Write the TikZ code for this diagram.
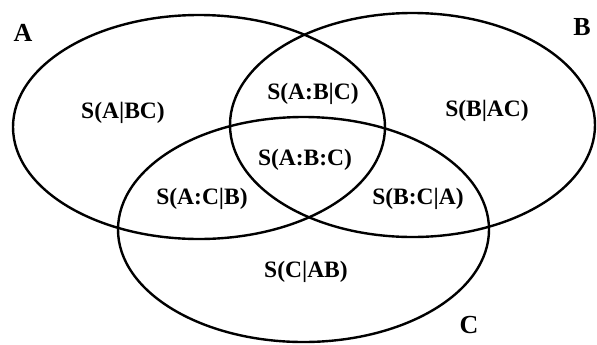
\documentclass[tikz,border=0pt]{standalone}
\usepackage{fontspec}
\setmainfont{Liberation Serif}
\begin{document}
\begin{tikzpicture}[x=1bp,y=-1bp,
  ring/.style={draw=black,line width=2.4bp},
  region/.style={font=\fontsize{23.5bp}{27bp}\selectfont\bfseries,inner sep=0pt},
  setname/.style={font=\fontsize{26bp}{30bp}\selectfont\bfseries,inner sep=0pt}]
\useasboundingbox (0,0) rectangle (597,344);
\draw[ring] (199,127) ellipse [x radius=186, y radius=112];
\draw[ring] (412.5,125) ellipse [x radius=182.5, y radius=112];
\draw[ring] (303.5,229.5) ellipse [x radius=185.5, y radius=112.5];
\node[setname] (lA) at (23,33) {A};
\node[setname] (lB) at (582,27) {B};
\node[setname] (lC) at (469,325) {C};
\node[region] (abc1) at (123,113) {S(A\textbar BC)};
\node[region] (abc2) at (313,94) {S(A:B\textbar C)};
\node[region] (abc3) at (487,111) {S(B\textbar AC)};
\node[region] (abc4) at (305,160) {S(A:B:C)};
\node[region] (abc5) at (202,199) {S(A:C\textbar B)};
\node[region] (abc6) at (418,199) {S(B:C\textbar A)};
\node[region] (abc7) at (306,272) {S(C\textbar AB)};
\end{tikzpicture}
\end{document}
